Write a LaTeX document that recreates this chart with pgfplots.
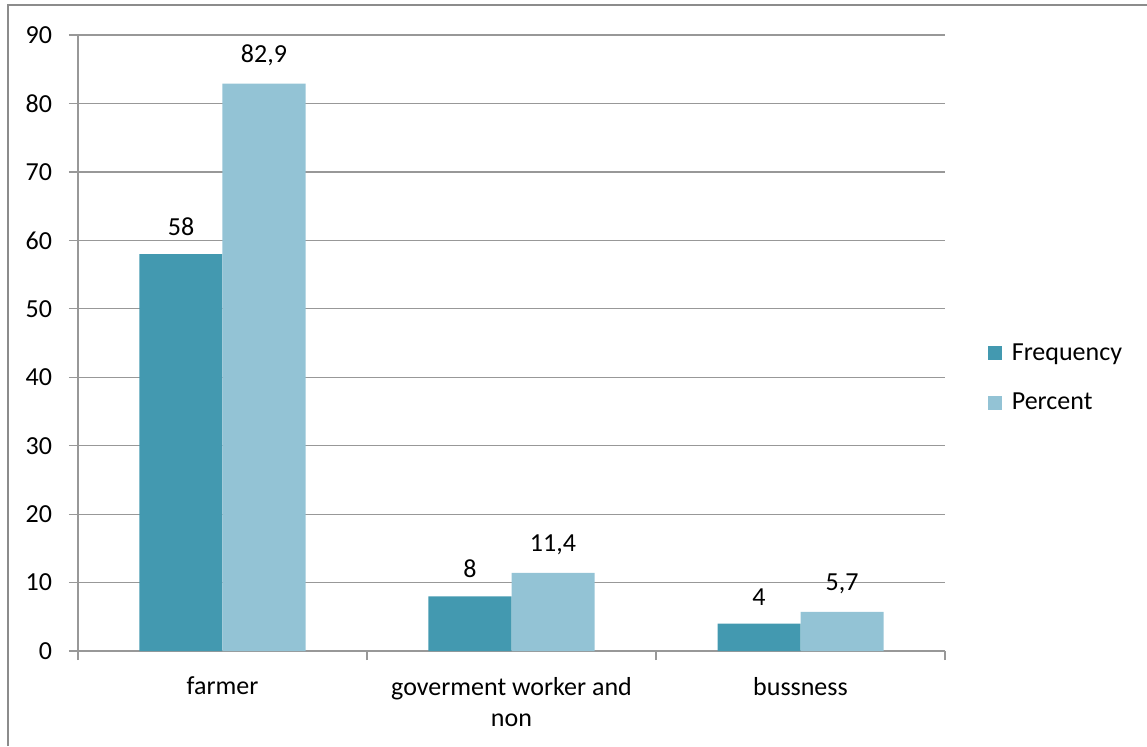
\documentclass[border=0pt]{standalone}
\usepackage{pgfplots}
\pgfplotsset{compat=1.18}
\usepackage{fontspec}
\setmainfont{Carlito}
\definecolor{freq}{RGB}{67,153,176}
\definecolor{perc}{RGB}{147,195,213}
\definecolor{gridc}{RGB}{152,152,152}
\definecolor{framec}{RGB}{140,140,140}
\begin{document}
\begin{tikzpicture}[font=\fontsize{13pt}{15.5pt}\selectfont]
\useasboundingbox (0,0) rectangle (573.5pt,373pt);
\draw[framec, line width=1pt] (4pt,0) -- (4pt,370.5pt) -- (574pt,370.5pt);
\begin{axis}[
  at={(39pt,47.5pt)}, anchor=south west,
  scale only axis, width=433.5pt, height=308pt,
  ybar=0pt, bar width=41.5pt,
  xmin=-0.5, xmax=2.5, ymin=0, ymax=90,
  ytick={0,10,...,90},
  xtick={0,1,2},
  xticklabels={farmer,{goverment worker and\\non},bussness},
  minor xtick={-0.5,0.5,1.5,2.5},
  major x tick style={draw=none},
  minor tick length=4.5pt, major tick length=4.5pt,
  tick align=outside,
  axis x line*=bottom, axis y line*=left,
  axis line style={gridc, line width=0.6pt, -},
  tick style={gridc, line width=0.6pt},
  ymajorgrids, grid style={gridc, line width=0.6pt},
  /pgf/number format/assume math mode=true,
  /pgf/number format/use comma,
  yticklabel style={xshift=-5pt},
  xticklabel style={align=center, yshift=-5pt},
  nodes near coords,
  nodes near coords style={anchor=south, yshift=5.5pt, /pgf/number format/assume math mode=true, /pgf/number format/use comma},
  legend style={at={(1.042,0.443)}, anchor=west, draw=none, fill=none, row sep=11pt, font=\fontsize{13pt}{14pt}\selectfont},
  legend cell align=left,
  legend image code/.code={\fill[#1] (0pt,-3.5pt) rectangle (7pt,3.5pt); \path (10pt,0pt);},
  clip=false,
]
\addplot[fill=freq, draw=none] coordinates {(0,58) (1,8) (2,4)};
\addplot[fill=perc, draw=none] coordinates {(0,82.9) (1,11.4) (2,5.7)};
\legend{Frequency,Percent}
\end{axis}
\end{tikzpicture}
\end{document}
